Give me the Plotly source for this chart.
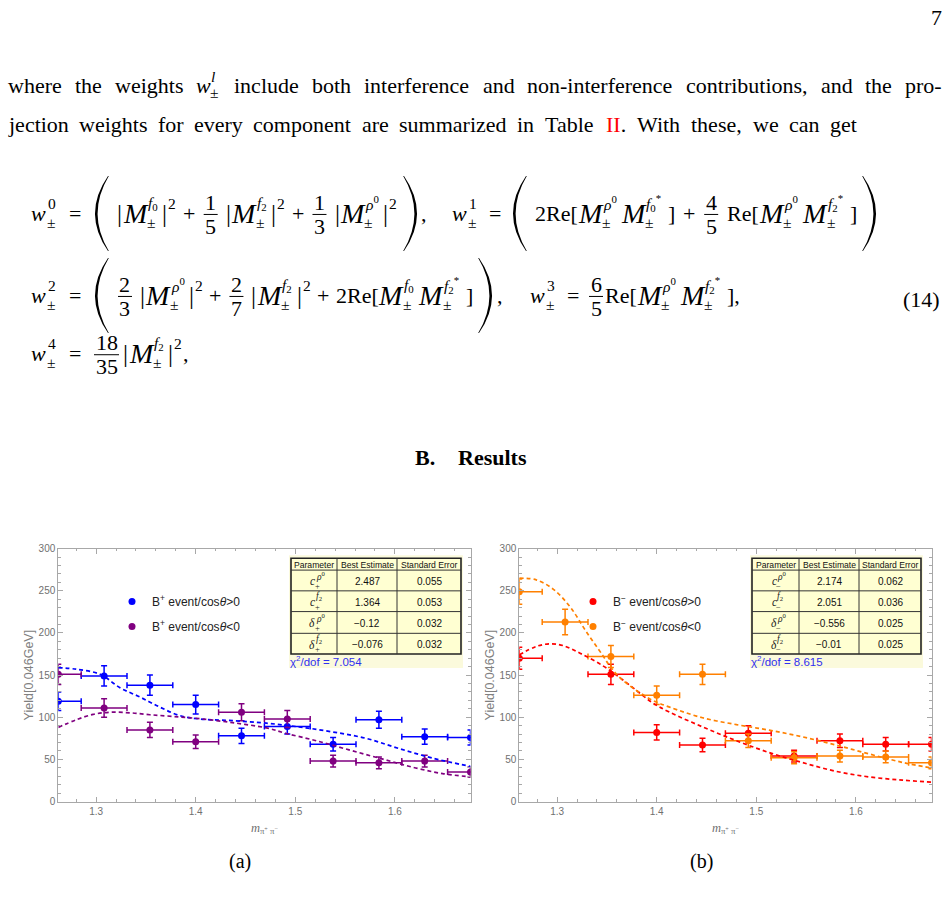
import plotly.graph_objects as go

W, H = 947, 910

# ---------------- data ----------------
bin_x = [1.262, 1.308, 1.354, 1.400, 1.446, 1.492, 1.538, 1.584, 1.630, 1.676]
bin_half = [0.023, 0.023, 0.023, 0.023, 0.023, 0.023, 0.023, 0.023, 0.023, 0.023]

bplus_pos_y = [119, 149, 138, 115, 78, 89, 68, 97, 77, 76]
bplus_pos_err = [11, 12, 12, 11, 9, 9, 8, 10, 9, 9]
bplus_neg_y = [151, 111, 85, 71, 106, 98, 48, 46, 48, 35]
bplus_neg_err = [12, 11, 9, 8, 10, 10, 7, 7, 7, 6]

bminus_pos_x = [1.262, 1.354, 1.400, 1.446, 1.492, 1.538, 1.584, 1.630, 1.676]
bminus_pos_half = [0.023, 0.023, 0.023, 0.023, 0.023, 0.023, 0.023, 0.023, 0.023]
bminus_pos_y = [170, 151, 82, 67, 81, 54, 72, 68, 68]
bminus_pos_err = [13, 12, 9, 8, 9, 7, 8, 8, 8]
bminus_neg_y = [249, 213, 172, 126, 151, 72, 52, 54, 53, 46]
bminus_neg_err = [15, 15, 13, 11, 12, 8, 7, 7, 7, 7]

fit_a_pos_x = [1.262, 1.280, 1.304, 1.324, 1.344, 1.364, 1.384, 1.404, 1.437, 1.471, 1.504, 1.537, 1.571, 1.604, 1.638, 1.676]
fit_a_pos_y = [159, 157, 151, 135, 124, 112, 102, 98, 96, 93, 88.5, 82.7, 75, 63, 51.5, 41.7]
fit_a_neg_x = [1.262, 1.280, 1.297, 1.314, 1.334, 1.354, 1.377, 1.404, 1.437, 1.471, 1.491, 1.521, 1.554, 1.588, 1.621, 1.648, 1.676]
fit_a_neg_y = [88, 97, 103.4, 106, 105.3, 103, 101, 98.3, 93.6, 87.4, 80.8, 72.2, 61.3, 50.3, 39.8, 33.2, 29.3]

fit_b_pos_x = [1.262, 1.279, 1.292, 1.306, 1.323, 1.346, 1.363, 1.380, 1.396, 1.413, 1.446, 1.480, 1.513, 1.546, 1.580, 1.613, 1.647, 1.676]
fit_b_pos_y = [174, 184, 187, 185, 176, 161, 147, 131.5, 117, 106, 88.6, 72.2, 58.1, 46.4, 35.9, 29.3, 25.4, 23]
fit_b_neg_x = [1.262, 1.279, 1.296, 1.313, 1.329, 1.346, 1.354, 1.363, 1.380, 1.396, 1.413, 1.446, 1.480, 1.513, 1.546, 1.580, 1.613, 1.647, 1.676]
fit_b_neg_y = [265, 263, 252, 231, 202, 173, 159, 147, 131.5, 120, 112, 99.4, 91.3, 84.7, 76.9, 67.1, 56.6, 46.4, 39.8]

x_ticks = [1.3, 1.4, 1.5, 1.6]
y_ticks = [0, 50, 100, 150, 200, 250, 300]

tab_header = ["Parameter", "Best Estimate", "Standard Error"]
tab_base = ["c", "c", "δ", "δ"]
tab_sup = ["ρ0", "f2", "ρ0", "f2"]
tab_a_est = ["2.487", "1.364", "\u22120.12", "\u22120.076"]
tab_a_err = ["0.055", "0.053", "0.032", "0.032"]
tab_a_chi2 = "7.054"
tab_b_est = ["2.174", "2.051", "\u22120.556", "\u22120.01"]
tab_b_err = ["0.062", "0.036", "0.025", "0.025"]
tab_b_chi2 = "8.615"

# ---------------- helpers ----------------
SERIF = "Liberation Serif"
SANS = "Liberation Sans"
ann = []
shp = []


def X(x):
    return x / W


def Y(y):
    return 1 - y / H


def txt(x, y, s, size=20, anchor="left", color="black", family=SERIF, yanchor="middle"):
    ann.append(dict(x=X(x), y=Y(y), xref="paper", yref="paper", text=s, showarrow=False,
                    xanchor=anchor, yanchor=yanchor, borderpad=0, borderwidth=0,
                    font=dict(size=size, family=family, color=color)))


TM = {' ': 250, '(': 333, ')': 333, '*': 500, '+': 564, ',': 250, '-': 333, '.': 250, '/': 278,
      '=': 564, '[': 333, ']': 333, '|': 200, '±': 549, 'ρ': 549, 'δ': 494, 'θ': 521, 'χ': 549,
      'π': 549, '\u2212': 564}
for d in '0123456789':
    TM[d] = 500
TM.update(dict(A=722, B=667, C=667, D=722, E=611, F=556, G=722, H=722, I=333, J=389, K=722, L=611,
               M=889, N=722, O=722, P=556, Q=722, R=667, S=556, T=611, U=722, V=722, W=944, X=722,
               Y=722, Z=611))
TM.update(dict(a=444, b=500, c=444, d=500, e=444, f=333, g=500, h=500, i=278, j=278, k=500, l=278,
               m=778, n=500, o=500, p=500, q=500, r=333, s=389, t=278, u=500, v=500, w=722, x=500,
               y=500, z=444))


def tw(s, size):
    return sum(TM.get(c, 500) for c in s) * size / 1000.0


def line(x0, y0, x1, y1, color="black", width=1.0):
    shp.append(dict(type="line", xref="paper", yref="paper", x0=X(x0), y0=Y(y0), x1=X(x1), y1=Y(y1),
                    line=dict(color=color, width=width)))


def paren(xl, yc, left=True, h=76, w=20, t=2.6):
    y1, y2 = yc - h / 2, yc + h / 2
    if left:
        xe, xo = xl + w * 0.8, xl + w * 0.15
        c_out = 2 * xo - xe
        c_in = 2 * (xo + t) - (xe + 0.8)
        e2 = xe + 0.8
    else:
        xe, xo = xl + w * 0.2, xl + w * 0.85
        c_out = 2 * xo - xe
        c_in = 2 * (xo - t) - (xe - 0.8)
        e2 = xe - 0.8
    path = (f"M{X(xe)},{Y(y1)} Q{X(c_out)},{Y(yc)} {X(xe)},{Y(y2)} "
            f"L{X(e2)},{Y(y2)} Q{X(c_in)},{Y(yc)} {X(e2)},{Y(y1)} Z")
    shp.append(dict(type="path", path=path, xref="paper", yref="paper", fillcolor="black",
                    line=dict(width=0)))


SS = 15.5   # script size


class Row:
    def __init__(self, y, size=22):
        self.x = 0
        self.y = y
        self.s = size
        self.dry = False

    def _t(self, *a, **k):
        if not self.dry:
            txt(*a, **k)

    def at(self, x):
        self.x = x
        return self

    def t(self, m, plain=None, pad=0.0):
        plain = m if plain is None else plain
        self._t(self.x, self.y, m, self.s)
        self.x += tw(plain, self.s) + pad
        return self

    def bar(self):
        self._t(self.x, self.y, "|", 25)
        self.x += 5.5
        return self

    def sup(self, m, plain=None):
        plain = m if plain is None else plain
        self._t(self.x + 0.5, self.y - 10, m, SS)
        self.x += tw(plain, SS) + 1.5
        return self

    def sym(self, base, sup="", splain="", sub="", subplain="", bsize=None):
        bs = bsize or self.s
        self._t(self.x, self.y, f"<i>{base}</i>", bs)
        xb = self.x + tw(base, bs) * 0.96 + 1.5
        if sup:
            self._t(xb, self.y - 10.5, sup, SS)
        if sub:
            self._t(xb - 1, self.y + 9, sub, SS)
        self.x = xb + max(tw(splain, SS), tw(subplain, SS) - 1) + 1.5
        return self

    def M(self, sup, splain):
        return self.sym("M", sup, splain, "±", "±", bsize=28)

    def frac(self, num, den, pad=2.0):
        s = self.s
        w = max(tw(num, s), tw(den, s)) + 3
        x0 = self.x + pad
        xc = x0 + w / 2
        self._t(xc, self.y - 11.5, num, s, anchor="center")
        self._t(xc, self.y + 13, den, s, anchor="center")
        if not self.dry:
            line(x0, self.y + 1, x0 + w, self.y + 1, width=1.0)
        self.x = x0 + w + pad
        return self

    def absm(self, sup, splain):
        self.bar()
        self.M(sup, splain)
        self.bar()
        self.sup("2")
        return self

    def re(self, prefix, sups, tail="]"):
        self.t(prefix)
        for sp, spl in sups:
            self.M(sp, spl)
        self.t(tail)
        return self

    def span(self, x0, x1, ops):
        widths = []
        self.dry = True
        for name, args in ops:
            self.x = 0
            getattr(self, name)(*args)
            widths.append(self.x)
        self.dry = False
        gap = max(-2.0, (x1 - x0 - sum(widths)) / max(1, len(ops) - 1))
        self.x = x0
        for (name, args), w in zip(ops, widths):
            st = self.x
            getattr(self, name)(*args)
            self.x = st + w + gap
        return self


RHO0 = "<i>ρ</i><sup>0</sup>"
F0 = "<i>f</i><sub>0</sub>"
F2 = "<i>f</i><sub>2</sub>"
F0S = "<i>f</i><sub>0</sub><sup>*</sup>"
F2S = "<i>f</i><sub>2</sub><sup>*</sup>"

# ---------------- page text ----------------
txt(942, 12, "7", 22, anchor="right")


def justify(words, x0, x1, y, size=22):
    widths = [tw(p, size) if isinstance(p, str) else p for _, p in words]
    gap = (x1 - x0 - sum(widths)) / (len(words) - 1)
    x = x0
    for (m, p), w in zip(words, widths):
        if callable(m):
            m(x, y)
        else:
            txt(x, y, m, size)
        x += w + gap


def w_l(x, y):
    txt(x, y, "<i>w</i>", 22)
    txt(x + 15, y - 9, "<i>l</i>", 15.5)
    txt(x + 13.5, y + 7.5, "±", 15.5)


line1 = "where the weights".split() + [None] + \
    "include both interference and non-interference contributions, and the pro-".split()
words1 = [(w_l, 25.0) if w is None else (w, w) for w in line1]
justify(words1, 8, 942, 80)

line2 = "jection weights for every component are summarized in Table".split()
words2 = [(w, w) for w in line2] + [('<span style="color:red">II</span>.', "II.")] + \
    [(w, w) for w in "With these, we can get".split()]
justify(words2, 8, 857, 120)

# equations -- row 1
r = Row(210)
r.at(31).sym("w", "0", "0", "±", "±")
r.at(69).t("=")
paren(92, 210, True)
r.span(117, 398, [("absm", (F0, "f0")), ("t", ("+",)), ("frac", ("1", "5")),
                  ("absm", (F2, "f2")), ("t", ("+",)), ("frac", ("1", "3")),
                  ("absm", (RHO0, "ρ0"))])
paren(400, 210, False)
r.at(421).t(",")
r.at(452).sym("w", "1", "1", "±", "±")
r.at(489).t("=")
paren(510, 210, True)
r.span(535, 857, [("re", ("2Re[", [(RHO0, "ρ0"), (F0S, "f0*")])), ("t", ("+",)),
                  ("frac", ("4", "5")), ("re", ("Re[", [(RHO0, "ρ0"), (F2S, "f2*")]))])
paren(859, 210, False)

# row 2
r = Row(293)
r.at(31).sym("w", "2", "2", "±", "±")
r.at(69).t("=")
paren(92, 293, True)
r.span(116, 473, [("frac", ("2", "3")), ("absm", (RHO0, "ρ0")), ("t", ("+",)),
                  ("frac", ("2", "7")), ("absm", (F2, "f2")), ("t", ("+",)),
                  ("re", ("2Re[", [(F0, "f0"), (F2S, "f2*")]))])
paren(475, 293, False)
r.at(497).t(",")
r.at(530).sym("w", "3", "3", "±", "±")
r.at(567).t("=")
r.at(587).frac("6", "5")
r.re("Re[", [(RHO0, "ρ0"), (F2S, "f2*")], "],")
txt(940, 297, "(14)", 22, anchor="right")

# row 3
r = Row(352)
r.at(31).sym("w", "4", "4", "±", "±")
r.at(69).t("=")
r.at(92).frac("18", "35")
r.at(123).absm(F2, "f2")
r.t(",")

txt(415, 457, "<b>B.</b>", 22)
txt(458, 457, "<b>Results</b>", 22)
txt(240, 866, "(a)", 20, anchor="center")
txt(701, 866, "(b)", 20, anchor="center")

# ---------------- tables ----------------
BAND = "#FBFADC"
CELL = "#FFFFD2"


def table(x0, cols, x1, bandx, sub, est, err, chi2):
    ytop = 559
    rows = [571, 592, 613, 635, 656]
    shp.append(dict(type="rect", xref="paper", yref="paper", x0=X(bandx[0]), x1=X(bandx[1]),
                    y0=Y(670), y1=Y(556), fillcolor=BAND, line=dict(width=0)))
    shp.append(dict(type="rect", xref="paper", yref="paper", x0=X(x0), x1=X(x1),
                    y0=Y(rows[-1]), y1=Y(ytop), fillcolor=CELL, line=dict(color="#222", width=1.6)))
    for yy in rows[:-1]:
        line(x0, yy, x1, yy, "#333", 1.0)
    for xx in cols:
        line(xx, ytop, xx, rows[-1], "#333", 1.0)
    edges = [x0] + cols + [x1]
    centers = [(edges[i] + edges[i + 1]) / 2 for i in range(3)]
    for c, h in zip(centers, tab_header):
        txt(c, (ytop + rows[0]) / 2 + 0.5, h, 8.6, anchor="center", family=SANS, color="#111")
    for i in range(4):
        yc = (rows[i] + rows[i + 1]) / 2
        xc = centers[0]
        txt(xc + 1, yc + 1, f"<i>{tab_base[i]}</i>", 11.5, anchor="right", color="#222")
        sp_m = RHO0 if tab_sup[i] == "ρ0" else F2
        txt(xc + 1.5, yc - 4.5, sp_m, 9.5, anchor="left", color="#222")
        txt(xc + 0.5, yc + 5.5, sub, 8.5, anchor="left", color="#222")
        txt(centers[1], yc + 1, est[i], 10, anchor="center", family=SANS, color="#111")
        txt(centers[2], yc + 1, err[i], 10, anchor="center", family=SANS, color="#111")
    txt(bandx[0] + 1, 663, f"χ<sup>2</sup>/dof = {chi2}", 11.5, anchor="left", family=SANS,
        color="#3030F0")


table(291, [337, 397], 461, (289, 463), "+", tab_a_est, tab_a_err, tab_a_chi2)
table(752, [799, 859], 921, (750, 923), "\u2212", tab_b_est, tab_b_err, tab_b_chi2)

# ---------------- traces ----------------
BLUE, PURPLE, RED, ORANGE = "#0000FF", "#800080", "#FF0000", "#FF8000"
fig = go.Figure()


def data_trace(x, xh, y, e, color, name, xa, ya, legend, group):
    return go.Scatter(x=x, y=y, mode="markers", name=name, legend=legend, legendgroup=group,
                      marker=dict(color=color, size=7),
                      error_x=dict(type="data", array=xh, color=color, thickness=1.5, width=3),
                      error_y=dict(type="data", array=e, color=color, thickness=1.5, width=3),
                      xaxis=xa, yaxis=ya, hoverinfo="x+y")


def fit_trace(x, y, color, xa, ya):
    return go.Scatter(x=x, y=y, mode="lines", showlegend=False, hoverinfo="skip",
                      line=dict(color=color, width=1.7, dash="4px,3px", shape="spline", smoothing=1.0),
                      xaxis=xa, yaxis=ya)


fig.add_trace(data_trace(bin_x, bin_half, bplus_pos_y, bplus_pos_err, BLUE,
                         "B<sup>+</sup> event/cos<i>θ</i>&gt;0", "x", "y", "legend", "a1"))
fig.add_trace(data_trace(bin_x, bin_half, bplus_neg_y, bplus_neg_err, PURPLE,
                         "B<sup>+</sup> event/cos<i>θ</i>&lt;0", "x", "y", "legend", "a2"))
fig.add_trace(fit_trace(fit_a_pos_x, fit_a_pos_y, BLUE, "x", "y"))
fig.add_trace(fit_trace(fit_a_neg_x, fit_a_neg_y, PURPLE, "x", "y"))

fig.add_trace(data_trace(bminus_pos_x, bminus_pos_half, bminus_pos_y, bminus_pos_err, RED,
                         "B<sup>\u2212</sup> event/cos<i>θ</i>&gt;0", "x2", "y2", "legend2", "b1"))
fig.add_trace(data_trace(bin_x, bin_half, bminus_neg_y, bminus_neg_err, ORANGE,
                         "B<sup>\u2212</sup> event/cos<i>θ</i>&lt;0", "x2", "y2", "legend2", "b2"))
fig.add_trace(fit_trace(fit_b_pos_x, fit_b_pos_y, RED, "x2", "y2"))
fig.add_trace(fit_trace(fit_b_neg_x, fit_b_neg_y, ORANGE, "x2", "y2"))

AX_LINE = "#A8A8A8"
TICK_FONT = dict(size=10, family=SANS, color="#707070")


def xaxis(dom, anchor):
    return dict(domain=dom, anchor=anchor, range=[1.262, 1.676], tickvals=x_ticks,
                ticktext=[f"{v:.1f}" for v in x_ticks], ticks="inside", ticklen=5, tickwidth=1,
                tickcolor=AX_LINE, showline=True, linecolor=AX_LINE, linewidth=1, mirror="ticks",
                showgrid=False, zeroline=False, tickfont=TICK_FONT,
                minor=dict(dtick=0.02, tick0=1.3, ticks="inside", ticklen=2.5, tickcolor=AX_LINE,
                           showgrid=False),
                title=dict(text="<i>m</i><sub>π<sup>+</sup> π<sup>\u2212</sup></sub>",
                           font=dict(size=12.5, family=SERIF, color="#707070"), standoff=7))


def yaxis(dom, anchor):
    return dict(domain=dom, anchor=anchor, range=[0, 300], tickvals=y_ticks, ticks="inside",
                ticklen=5, tickwidth=1, tickcolor=AX_LINE, showline=True, linecolor=AX_LINE,
                linewidth=1, mirror="ticks", showgrid=False, zeroline=False, tickfont=TICK_FONT,
                minor=dict(dtick=10, ticks="inside", ticklen=2.5, tickcolor=AX_LINE, showgrid=False),
                title=dict(text="Yield[0.046GeV]", font=dict(size=12.5, family=SANS, color="#808080"),
                           standoff=2))


ydom = [Y(805.3), Y(549.3)]
LEG = dict(bgcolor="rgba(0,0,0,0)", font=dict(size=12, family=SANS, color="#222"),
           tracegroupgap=6, traceorder="grouped", xanchor="left", yanchor="top", itemwidth=30)

fig.update_layout(
    width=W, height=H, margin=dict(l=0, r=0, t=0, b=0),
    paper_bgcolor="white", plot_bgcolor="white",
    xaxis=xaxis([X(58.3), X(470.5)], "y"), yaxis=yaxis(ydom, "x"),
    xaxis2=xaxis([X(519.3), X(931.5)], "y2"), yaxis2=yaxis(ydom, "x2"),
    legend=dict(LEG, x=X(112), y=Y(588)),
    legend2=dict(LEG, x=X(573), y=Y(588)),
    annotations=ann, shapes=shp, showlegend=True,
)

fig.write_html("out.html")
